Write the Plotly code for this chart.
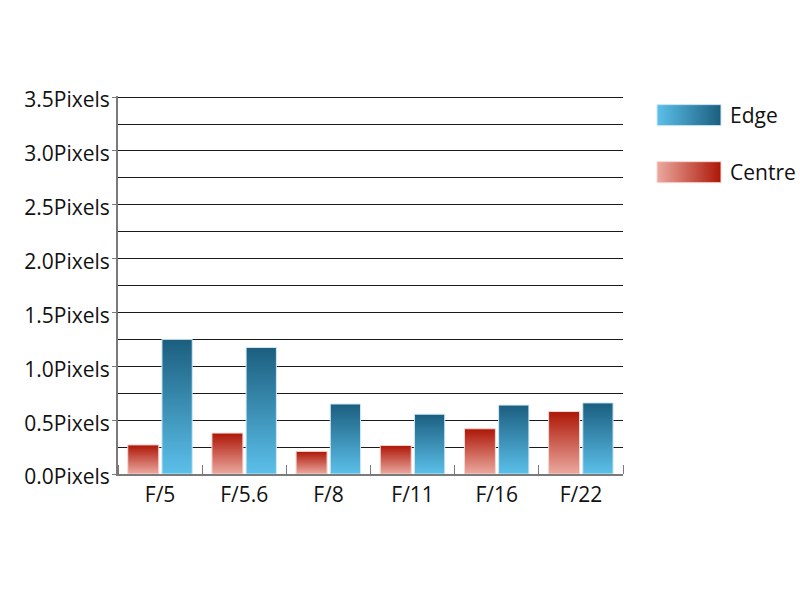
import plotly.graph_objects as go

# ---- data ----
categories = ["F/5", "F/5.6", "F/8", "F/11", "F/16", "F/22"]
centre_values = [0.27, 0.38, 0.21, 0.265, 0.42, 0.58]
edge_values = [1.25, 1.175, 0.65, 0.555, 0.64, 0.66]
y_tick_values = [0.0, 0.5, 1.0, 1.5, 2.0, 2.5, 3.0, 3.5]
y_tick_labels = [f"{v:.1f}Pixels" for v in y_tick_values]
series_names = ["Edge", "Centre"]

# ---- style ----
W, H = 800, 600
L, T, B = 118, 96.4, 126
PLOT_RIGHT = 623
Y_MAX = 3.51
FONT = "Open Sans"
FSIZE = 21
AXIS_GREY = "#7a7a7a"
GRID = "#1a1a1a"
EDGE_LIGHT, EDGE_DARK, EDGE_BORDER = "#5cc0ea", "#1b5e7f", "#cfe8f4"
CEN_LIGHT, CEN_DARK, CEN_BORDER = "#eba9a0", "#ad1606", "#f6d6d1"
CEN_OFF = (-0.384, -0.016)
EDGE_OFF = (0.022, 0.382)

main_frac = (PLOT_RIGHT - L) / (W - L)
leg_left_px = 640
leg_frac = (leg_left_px - L) / (W - L)

fig = go.Figure()


def add_bar(i, v, off, light, dark, border):
    a, b = off
    fig.add_trace(go.Scatter(
        x=[i + a, i + a, i + b, i + b, i + a],
        y=[0, v, v, 0, 0],
        mode="lines", fill="toself",
        fillgradient=dict(type="vertical", colorscale=[[0, light], [1, dark]]),
        line=dict(color=border, width=1),
        showlegend=False, hoverinfo="skip",
    ))


for i, (c, e) in enumerate(zip(centre_values, edge_values)):
    add_bar(i, c, CEN_OFF, CEN_LIGHT, CEN_DARK, CEN_BORDER)
    add_bar(i, e, EDGE_OFF, EDGE_LIGHT, EDGE_DARK, EDGE_BORDER)

# ---- custom legend (pixel-space auxiliary axes) ----
legend_specs = [
    (series_names[0], 105, 126, EDGE_LIGHT, EDGE_DARK, EDGE_BORDER),
    (series_names[1], 162, 183, CEN_LIGHT, CEN_DARK, CEN_BORDER),
]
for name, y0, y1, light, dark, border in legend_specs:
    fig.add_trace(go.Scatter(
        x=[657, 657, 721, 721, 657], y=[y1, y0, y0, y1, y1],
        xaxis="x2", yaxis="y2",
        mode="lines", fill="toself",
        fillgradient=dict(type="horizontal", colorscale=[[0, light], [1, dark]]),
        line=dict(color=border, width=1),
        showlegend=False, hoverinfo="skip",
    ))
    fig.add_annotation(
        x=728, y=(y0 + y1) / 2, xref="x2", yref="y2", text=name,
        showarrow=False, xanchor="left", yanchor="middle",
        font=dict(family=FONT, size=FSIZE, color="#111"),
    )

fig.update_layout(
    width=W, height=H,
    margin=dict(l=L, r=0, t=T, b=B, pad=0, autoexpand=False),
    paper_bgcolor="white", plot_bgcolor="white",
    font=dict(family=FONT, size=FSIZE, color="#111"),
    showlegend=False,
    xaxis=dict(
        domain=[0, main_frac], range=[-0.5, 5.5], automargin=False,
        tickmode="array", tickvals=list(range(len(categories))), ticktext=categories,
        ticks="", showgrid=False, zeroline=False, ticklabelstandoff=1,
        showline=True, linecolor=AXIS_GREY, linewidth=2,
        minor=dict(tickmode="array", tickvals=[k - 0.5 for k in range(len(categories) + 1)],
                   ticks="inside", ticklen=9, tickwidth=1, tickcolor=AXIS_GREY, showgrid=False),
        fixedrange=True,
    ),
    yaxis=dict(
        range=[0, Y_MAX], automargin=False,
        tickmode="array", tickvals=y_tick_values, ticktext=y_tick_labels,
        ticks="outside", ticklen=4, tickwidth=1, tickcolor=AXIS_GREY,
        ticklabelstandoff=-2, ticklabelshift=3,
        showline=True, linecolor=AXIS_GREY, linewidth=2,
        showgrid=True, gridcolor=GRID, gridwidth=1, zeroline=False,
        minor=dict(dtick=0.25, tick0=0, showgrid=True, gridcolor=GRID, gridwidth=1),
        fixedrange=True,
    ),
    xaxis2=dict(domain=[leg_frac, 1], range=[leg_left_px, W], visible=False,
                anchor="y2", fixedrange=True, automargin=False),
    yaxis2=dict(domain=[0, 1], range=[H - B, T], visible=False,
                anchor="x2", fixedrange=True, automargin=False),
)

fig.write_html("out.html", config={"displayModeBar": False},
               post_script="document.body.style.margin='0';document.body.style.overflow='hidden';")
